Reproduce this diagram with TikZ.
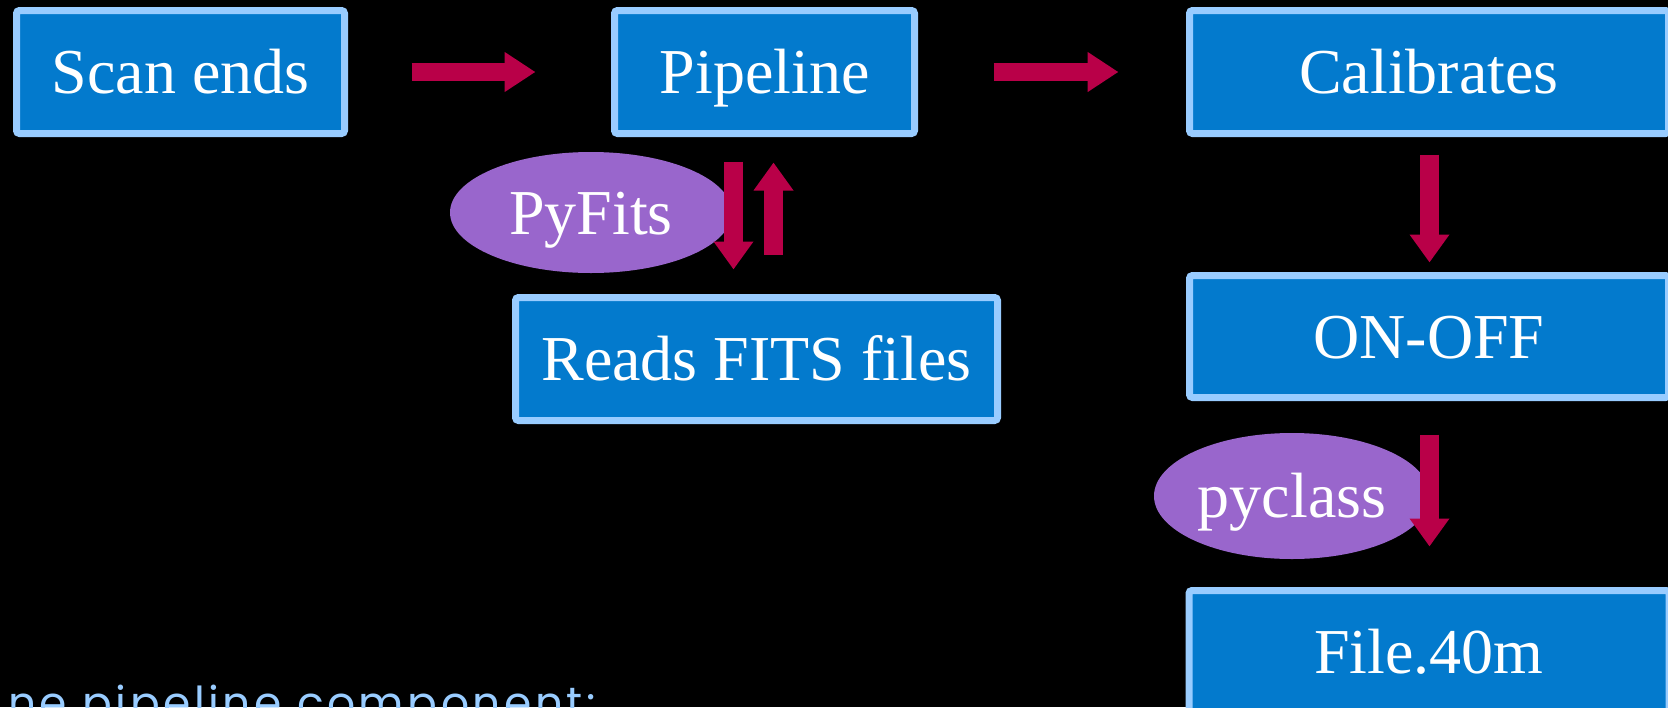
\documentclass[tikz,border=0pt]{standalone}
\usepackage{fontspec}
\setmainfont{Liberation Serif}
\newfontfamily\notefont[LetterSpace=8]{Poppins}
\usetikzlibrary{arrows.meta,shapes.geometric,calc}

\definecolor{boxfill}{RGB}{3,122,205}
\definecolor{boxedge}{RGB}{153,204,255}
\definecolor{tagfill}{RGB}{153,102,204}
\definecolor{flowred}{RGB}{185,0,72}
\definecolor{notecol}{RGB}{153,204,255}

\begin{document}
\begin{tikzpicture}[x=1pt,y=-1pt,
  stage/.style={draw=boxedge, line width=7pt, fill=boxfill, rounded corners=3pt,
    inner sep=0pt, minimum height=123pt, text=white,
    font=\fontsize{64}{70}\selectfont, text height=43pt, text depth=0pt},
  tag/.style={ellipse, fill=tagfill, inner sep=0pt, text=white,
    font=\fontsize{64}{70}\selectfont, text height=43pt, text depth=0pt},
  hflow/.style={draw=flowred, line width=18pt,
    -{Triangle[length=31pt 0 0, width=38pt 0 0]}},
  vflow/.style={draw=flowred, line width=19pt,
    -{Triangle[length=28pt 0 0, width=38pt 0 0]}}]

\useasboundingbox (0,0) rectangle (1668,707);
\clip (0,0) rectangle (1668,707);
\fill[black] (0,0) rectangle (1668,707);

% processing stages
\node[stage, minimum width=328pt] (scan) at (180.5,72) {Scan ends};
\node[stage, minimum width=300pt] (pipe) at (764.5,72) {Pipeline};
\node[stage, minimum width=479pt] (calib) at (1429,72) {Calibrates};
\node[stage, minimum width=482pt] (reads) at (756.5,359) {Reads FITS files};
\node[stage, minimum width=479pt, minimum height=122pt] (onoff) at (1429,336.5) {ON-OFF};
\node[stage, minimum width=480pt] (file) at (1429,652) {File.40m};

% library tags
\node[tag, minimum width=282pt, minimum height=121pt] (pyfits) at (591,212.5) {PyFits};
\node[tag, minimum width=276pt, minimum height=126pt] (pyclass) at (1292,496) {pyclass};

% flow arrows
\draw[hflow] ($(scan.east)+(63.5,0)$) -- ($(pipe.west)+(-75.5,0)$);
\draw[hflow] ($(pipe.east)+(75.5,0)$) -- ($(calib.west)+(-67.5,0)$);
\draw[vflow] ($(calib.south)+(0.5,17.5)$) -- ($(onoff.north)+(0.5,-9.5)$);
\draw[vflow] ($(pipe.south)+(-31,24.5)$) -- ($(reads.north)+(-23,-24.5)$);
\draw[vflow] ($(reads.north)+(17,-39.5)$) -- ($(pipe.south)+(9,25.5)$);
\draw[vflow] ($(onoff.south)+(0.5,33.5)$) -- ($(file.north)+(0.5,-40.5)$);

% caption line, running past the lower edge
\node[anchor=base east, text=notecol, inner sep=0pt,
  font=\notefont\fontsize{44}{50}\selectfont] (note) at (596,718) {ne pipeline component:};
\end{tikzpicture}
\end{document}
